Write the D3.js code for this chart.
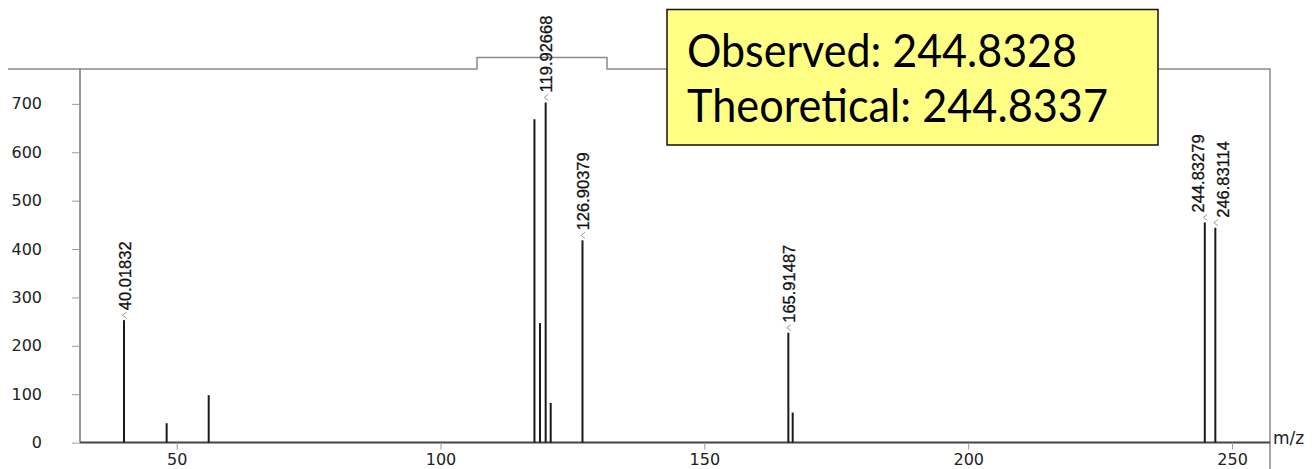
<!DOCTYPE html>
<html>
<head>
<meta charset="utf-8">
<script src="https://cdn.jsdelivr.net/npm/d3@7"></script>
<style>
  body { margin: 0; background: #fff; }
  svg { display: block; }
</style>
</head>
<body>
<svg width="1315" height="469"></svg>
<script>
// peaks
var mz        = [40.01832, 48.1, 56.07, 117.8, 118.85, 119.92668, 120.88, 126.90379, 165.91487, 166.74, 244.83279, 246.83114];
var intensity = [253, 40, 98, 668, 247, 703, 82, 418, 227, 62, 455, 444];
var peakLabels = ["40.01832", "", "", "", "", "119.92668", "", "126.90379", "165.91487", "", "244.83279", "246.83114"];
var yTicks = [0, 100, 200, 300, 400, 500, 600, 700];
var xTicks = [50, 100, 150, 200, 250];
var boxLines = ["Observed: 244.8328", "Theoretical: 244.8337"];

var svg = d3.select("svg");
var plotL = 80, plotR = 1270, plotT = 69, base = 442.6;

var x = d3.scaleLinear().domain([31.68, 257.19]).range([plotL, plotR]);
var y = d3.scaleLinear().domain([0, 770]).range([base, 70]);

// frame: top line with the raised tab, right border
svg.append("path")
  .attr("d", "M8," + plotT + "H477V57.5H607V" + plotT + "H" + plotR + "V469")
  .attr("fill", "none").attr("stroke", "#8a8a8a").attr("stroke-width", 1.5);

// y axis
var yAxis = svg.append("g").attr("transform", "translate(" + plotL + ",0)")
  .call(d3.axisLeft(y).tickValues(yTicks).tickSize(8).tickPadding(30));
yAxis.select(".domain").attr("d", "M0," + plotT + "V" + base).attr("stroke", "#777").attr("stroke-width", 1.5);
yAxis.selectAll(".tick line").attr("stroke", "#999");
yAxis.selectAll("text").attr("font-family", "DejaVu Sans").attr("font-size", 16).attr("fill", "#222");

// x axis
var xAxis = svg.append("g").attr("transform", "translate(0," + base + ")")
  .call(d3.axisBottom(x).tickValues(xTicks).tickSize(7).tickPadding(4));
xAxis.select(".domain").attr("d", "M" + plotL + ",0H" + plotR).attr("stroke", "#444").attr("stroke-width", 2);
xAxis.selectAll(".tick line").attr("stroke", "#999");
xAxis.selectAll("text").attr("font-family", "DejaVu Sans").attr("font-size", 16).attr("fill", "#222");

svg.append("text").attr("x", 1273).attr("y", 444)
  .attr("font-family", "DejaVu Sans").attr("font-size", 17).attr("fill", "#222")
  .text("m/z");

// peaks
var peaks = mz.map(function (m, i) { return { mz: m, v: intensity[i], label: peakLabels[i] }; });

svg.append("g").selectAll("line").data(peaks).enter().append("line")
  .attr("x1", function (d) { return x(d.mz); })
  .attr("x2", function (d) { return x(d.mz); })
  .attr("y1", y(0))
  .attr("y2", function (d) { return y(d.v); })
  .attr("stroke", "#1a1a1a").attr("stroke-width", 2);

var labelled = peaks.filter(function (d) { return d.label; });
// push apart labels of peaks that sit close together
labelled.forEach(function (d, i) {
  d.dx = 1;
  if (i > 0 && d.mz - labelled[i - 1].mz < 5) d.dx = 8;
  if (i < labelled.length - 1 && labelled[i + 1].mz - d.mz < 5) d.dx = -7;
});

// little marker above each labelled peak
svg.append("g").selectAll("path").data(labelled).enter().append("path")
  .attr("d", function (d) {
    var px = x(d.mz), py = y(d.v);
    return "M" + (px + 2.5) + "," + (py - 8) + "L" + (px - 1.5) + "," + (py - 5) + "L" + (px + 2.5) + "," + (py - 2);
  })
  .attr("fill", "none").attr("stroke", "#999").attr("stroke-width", 1);

svg.append("g").selectAll("text").data(labelled).enter().append("text")
  .attr("transform", function (d) {
    return "translate(" + (x(d.mz) + d.dx) + "," + (y(d.v) - 10) + ") rotate(-90)";
  })
  .attr("dy", "0.35em")
  .attr("font-family", "Liberation Sans, Arial, sans-serif").attr("font-size", 16.5)
  .attr("fill", "#111").attr("stroke", "#111").attr("stroke-width", 0.3)
  .text(function (d) { return d.label; });

// annotation box
svg.append("rect").attr("x", 667).attr("y", 9.5).attr("width", 491).attr("height", 135.5)
  .attr("fill", "#ffff85").attr("stroke", "#111").attr("stroke-width", 1.5);

var boxWidths = [390, 421];
svg.append("g").selectAll("text").data(boxLines).enter().append("text")
  .attr("x", 687)
  .attr("y", function (d, i) { return i === 0 ? 67 : 122; })
  .attr("font-family", "Lato, sans-serif").attr("font-size", 46).attr("fill", "#000")
  .attr("textLength", function (d, i) { return boxWidths[i]; })
  .attr("lengthAdjust", "spacingAndGlyphs")
  .text(function (d) { return d; });
</script>
</body>
</html>
